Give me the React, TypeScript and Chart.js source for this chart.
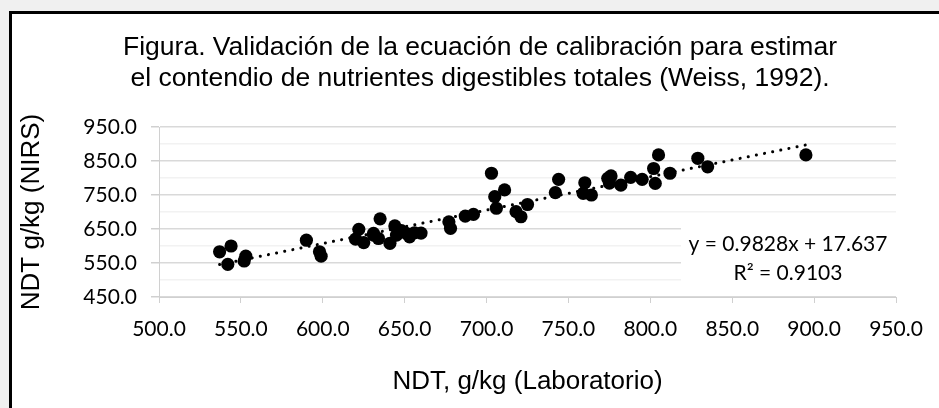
import React, { useEffect, useRef } from "react";
import { Chart, registerables } from "chart.js";

Chart.register(...registerables);

const TITLE_LINES = [
  "Figura. Validación de la ecuación de calibración para estimar",
  "el contendio de nutrientes digestibles totales (Weiss, 1992).",
];
const X_TITLE = "NDT, g/kg (Laboratorio)";
const Y_TITLE = "NDT g/kg (NIRS)";

// NDT laboratorio (x) vs NDT NIRS (y), g/kg
const labX = [
  537, 544, 542, 553, 552, 590, 598, 599, 622, 620,
  625, 631, 635, 631, 634, 641, 644, 645, 651, 656,
  653, 648, 660, 677, 678, 687, 692, 703, 705, 711,
  706, 718, 721, 725, 744, 742, 760, 759, 764, 774,
  776, 775, 782, 788, 795, 802, 805, 803, 812, 829,
  835, 895,
];
const nirsY = [
  583, 600, 546, 570, 556, 617, 583, 570, 649, 620,
  610, 632, 680, 637, 622, 608, 659, 632, 637, 639,
  627, 645, 638, 671, 652, 688, 693, 814, 745, 765,
  711, 701, 686, 722, 796, 757, 786, 755, 750, 799,
  806, 785, 779, 802, 796, 828, 868, 784, 814, 858,
  833, 868,
];

const SLOPE = 0.9828;
const INTERCEPT = 17.637;
const R2 = 0.9103;

const X_MIN = 500, X_MAX = 950, X_STEP = 50;
const Y_MIN = 450, Y_MAX = 950, Y_STEP = 50;

const EQ_LINES = [
  `y = ${SLOPE}x + ${INTERCEPT}`,
  `R² = ${R2}`,
];

const framePlugin = {
  id: "frame",
  beforeDraw(chart: any) {
    const { ctx, width, height } = chart;
    ctx.save();
    ctx.fillStyle = "#f0f0f0";
    ctx.fillRect(0, 0, width, height);
    ctx.fillStyle = "#000000";
    ctx.fillRect(9, 11, width, height);
    ctx.fillStyle = "#ffffff";
    ctx.fillRect(12, 14, width, height);
    // chart title
    ctx.fillStyle = "#000000";
    ctx.font = "26.5px 'Liberation Sans', Arial, sans-serif";
    ctx.textAlign = "center";
    ctx.textBaseline = "alphabetic";
    ctx.fillText(TITLE_LINES[0], 480, 55);
    ctx.fillText(TITLE_LINES[1], 480, 86);
    ctx.restore();
  },
};

const eqPlugin = {
  id: "eqLabel",
  afterDatasetsDraw(chart: any) {
    const { ctx } = chart;
    const xs = chart.scales.x;
    ctx.save();
    ctx.fillStyle = "#ffffff";
    ctx.fillRect(681, 220, xs.right - 681, 72);
    ctx.fillStyle = "#000000";
    ctx.font = "21px Lato, 'Open Sans', sans-serif";
    ctx.textAlign = "center";
    ctx.textBaseline = "alphabetic";
    ctx.fillText(EQ_LINES[0], 788, 251);
    ctx.fillText(EQ_LINES[1], 788, 280);
    ctx.restore();
  },
};

export default function App() {
  const canvasRef = useRef<HTMLCanvasElement | null>(null);

  useEffect(() => {
    document.body.style.margin = "0";
    const canvas = canvasRef.current;
    if (!canvas) return;

    const points = labX.map((x, i) => ({ x, y: nirsY[i] }));
    const xLo = Math.min(...labX);
    const xHi = Math.max(...labX);
    const trend = [
      { x: xLo, y: SLOPE * xLo + INTERCEPT },
      { x: xHi, y: SLOPE * xHi + INTERCEPT },
    ];

    const chart = new Chart(canvas, {
      type: "scatter",
      data: {
        datasets: [
          {
            type: "line",
            data: trend,
            borderColor: "#000000",
            borderWidth: 3,
            borderDash: [0.1, 8.2],
            borderCapStyle: "round",
            pointRadius: 0,
            fill: false,
            order: 0,
          } as any,
          {
            data: points,
            backgroundColor: "#000000",
            borderColor: "#000000",
            borderWidth: 0,
            pointRadius: 6.6,
            order: 1,
          },
        ],
      },
      options: {
        responsive: false,
        animation: false,
        events: [],
        devicePixelRatio: 1,
        layout: { padding: { left: 0, top: 127, right: 43, bottom: 0 } },
        plugins: {
          legend: { display: false },
          tooltip: { enabled: false },
          title: { display: false },
        },
        scales: {
          x: {
            type: "linear",
            position: "bottom",
            min: X_MIN,
            max: X_MAX,
            afterFit: (s: any) => { s.height = 111; },
            ticks: {
              stepSize: X_STEP,
              autoSkip: false,
              maxRotation: 0,
              padding: 14,
              color: "#000000",
              font: { family: "Lato, 'Open Sans', sans-serif", size: 21 },
              callback: (v: any) => Number(v).toFixed(1),
            },
            grid: {
              drawOnChartArea: false,
              drawTicks: true,
              tickLength: 6,
              tickColor: "#d0d0d0",
            },
            border: { display: true, color: "#d0d0d0", width: 1 },
            title: {
              display: true,
              text: X_TITLE,
              color: "#000000",
              font: { family: "'Liberation Sans', Arial, sans-serif", size: 26, weight: "normal" },
              padding: { top: 0, bottom: 11 },
            },
          },
          y: {
            type: "linear",
            position: "left",
            min: Y_MIN,
            max: Y_MAX,
            afterFit: (s: any) => { s.width = 159; },
            ticks: {
              stepSize: Y_STEP,
              autoSkip: false,
              padding: 14,
              color: "#000000",
              font: { family: "Lato, 'Open Sans', sans-serif", size: 21 },
              callback: (v: any) => (Number(v) % 100 === 50 ? Number(v).toFixed(1) : ""),
            },
            grid: {
              drawTicks: true,
              tickLength: 8,
              color: (c: any) => (c.tick && c.tick.value % 100 === 50 ? "#d9d9d9" : "#f2f2f2"),
              tickColor: (c: any) => (c.tick && c.tick.value % 100 === 50 ? "#d0d0d0" : "rgba(0,0,0,0)"),
              lineWidth: 1.5,
            },
            border: { display: true, color: "#d0d0d0", width: 1 },
            title: {
              display: true,
              text: Y_TITLE,
              color: "#000000",
              font: { family: "'Liberation Sans', Arial, sans-serif", size: 26, weight: "normal" },
              padding: { top: 16, bottom: 0 },
            },
          },
        },
      },
      plugins: [framePlugin, eqPlugin],
    });

    return () => chart.destroy();
  }, []);

  return (
    <div style={{ width: 939, height: 408 }}>
      <canvas ref={canvasRef} width={939} height={408} />
    </div>
  );
}
